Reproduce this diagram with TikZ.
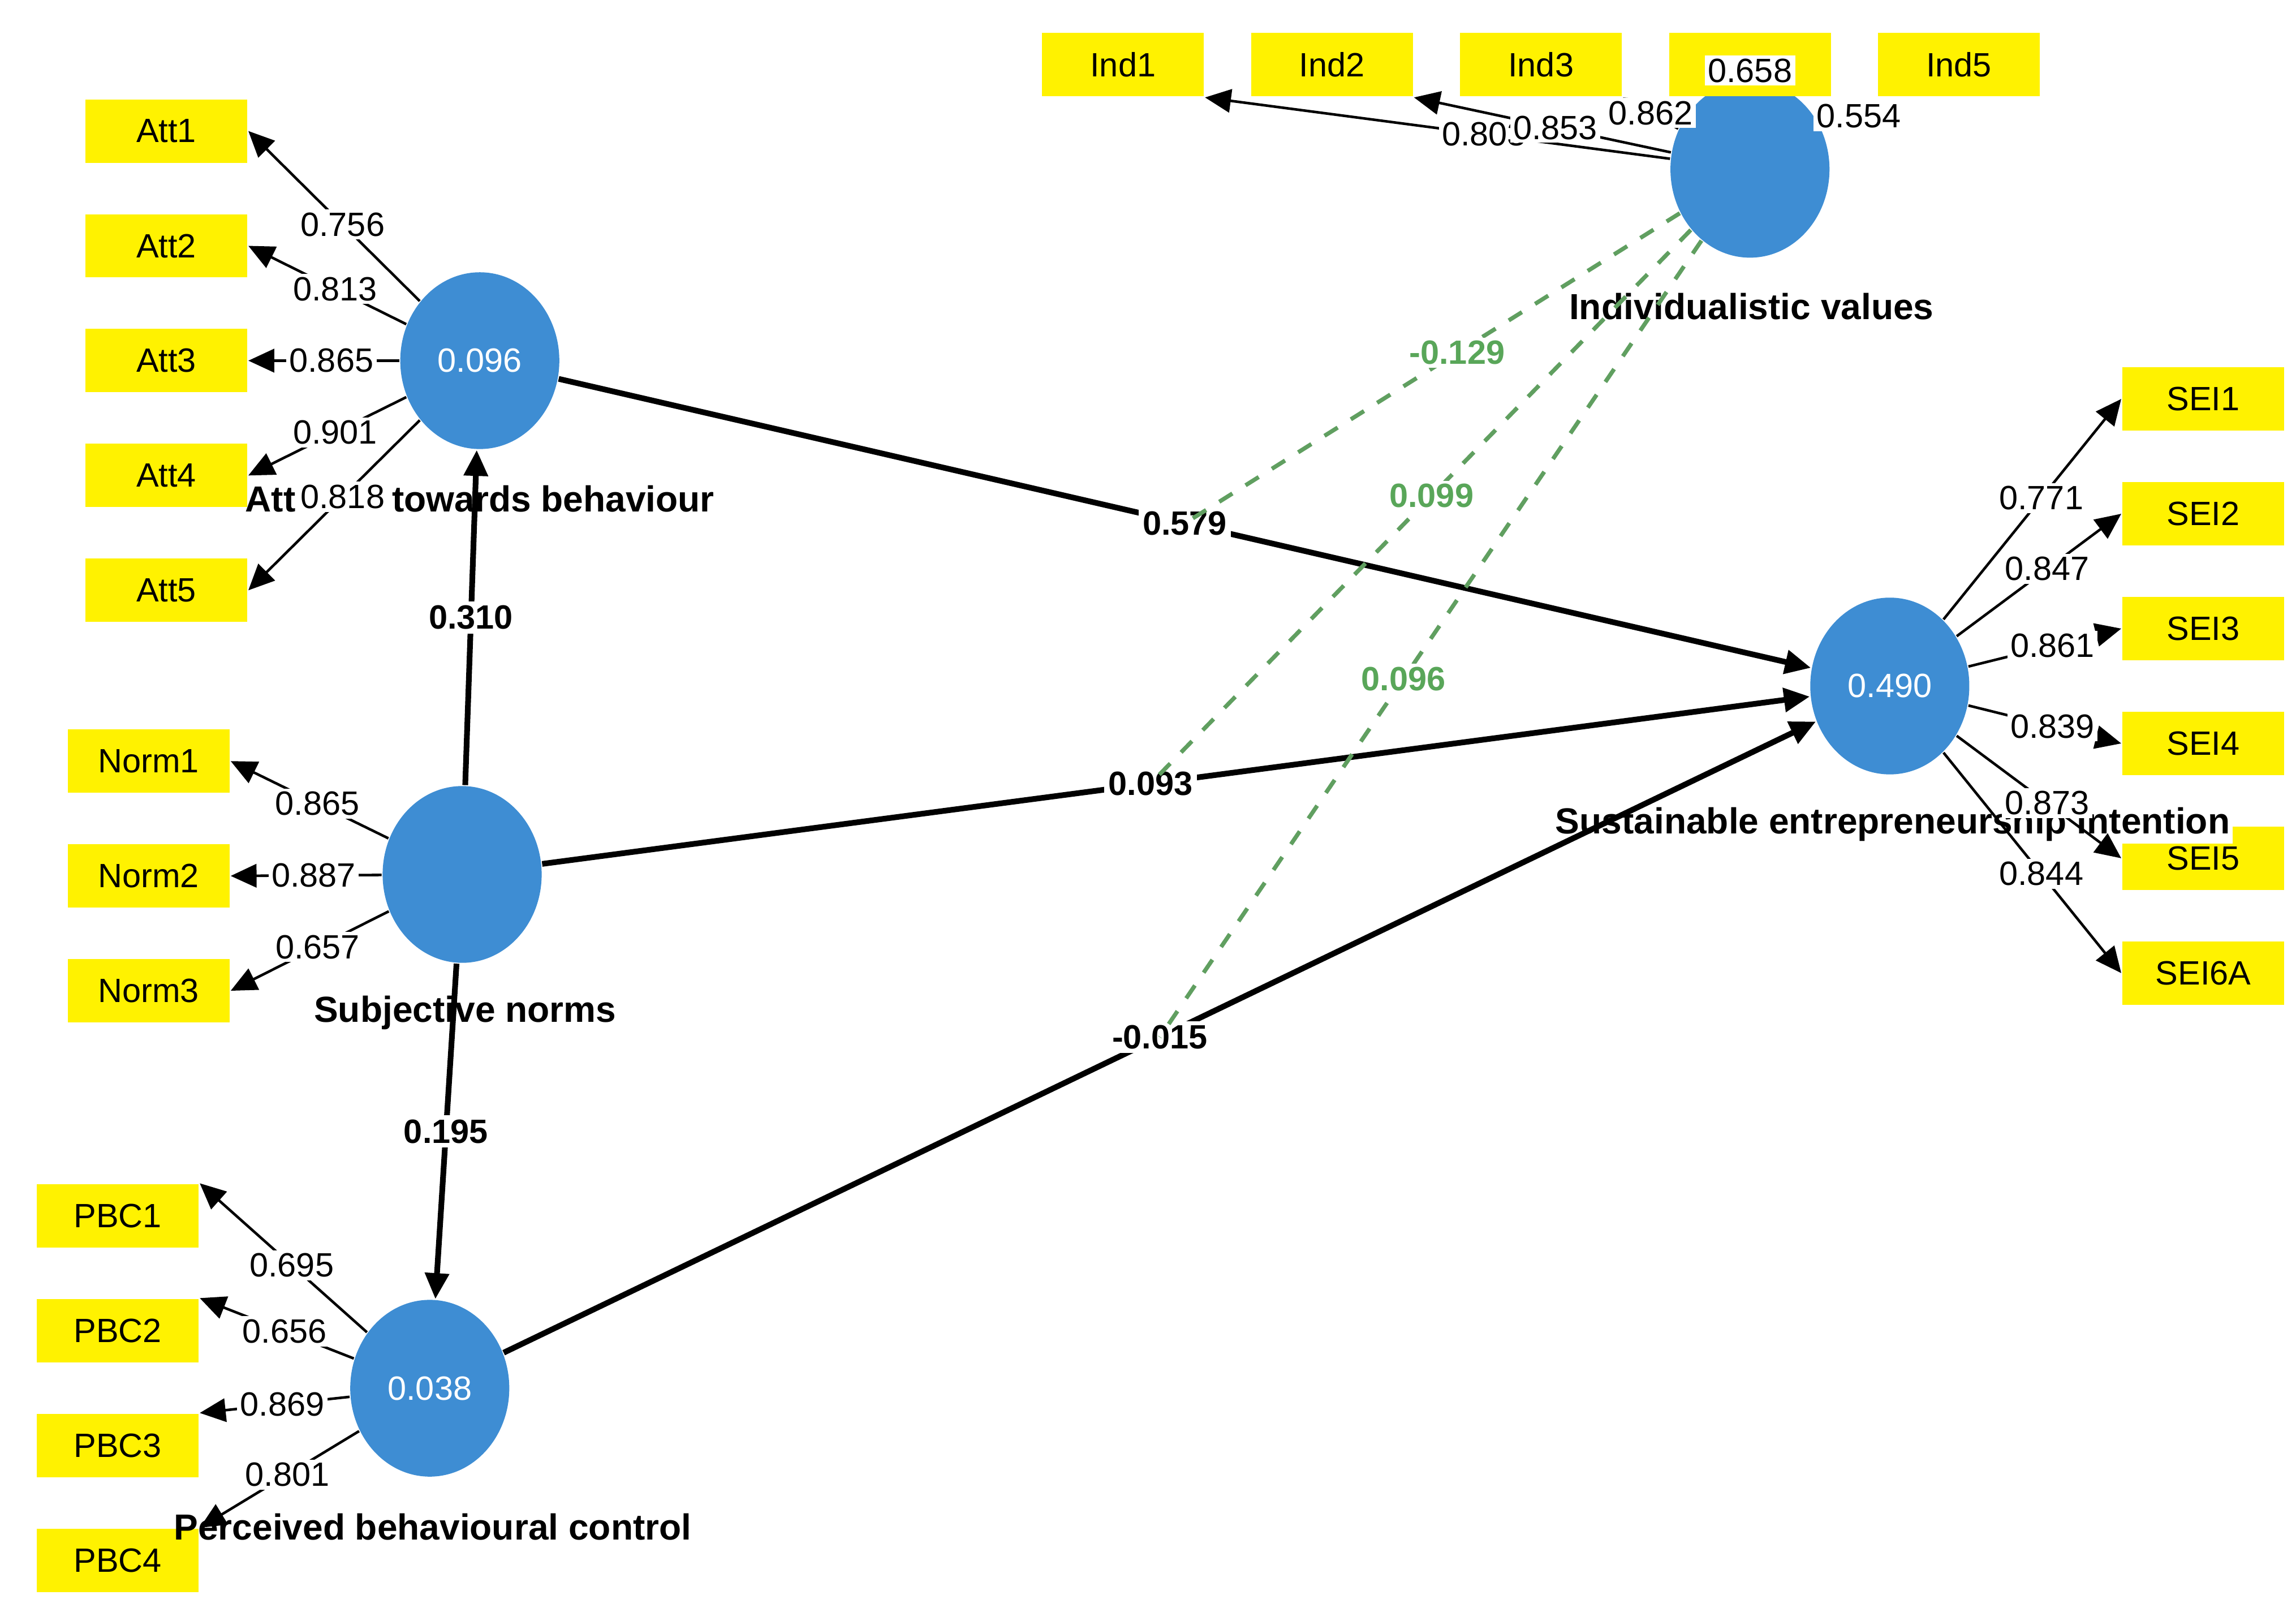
\documentclass[tikz,border=0pt]{standalone}
\usepackage{fontspec}
\setmainfont{Liberation Sans}
\usetikzlibrary{arrows.meta,shapes.geometric}
\begin{document}
\begin{tikzpicture}[
        x=0.01cm, y=-0.01cm,
        >={Triangle[length=5pt,width=4.5pt]},
        every node/.style={font=\fontsize{6.5}{7}\selectfont},
        ind/.style={fill=yellow, minimum width=1.1cm, minimum height=0.43cm, inner sep=0pt},
        lat/.style={ellipse, fill=cyan!60!blue!80, draw=none, minimum width=1.08cm, minimum height=1.2cm, text=white, inner sep=0pt},
        load/.style={->, line width=0.5pt},
        path/.style={->, line width=1.1pt},
        mod/.style={dashed, draw=green!25!gray, line width=0.8pt},
        lbl/.style={fill=white, inner sep=0.6pt},
        plbl/.style={fill=white, inner sep=0.8pt, font=\fontsize{6.5}{7}\selectfont\bfseries},
        mlbl/.style={fill=white, inner sep=0.6pt, text=green!30!gray, font=\fontsize{6.5}{7}\selectfont\bfseries}
    ]
    \useasboundingbox (0,0) rectangle (1560,1092);

    % Indicators
    \foreach \i/\y in {1/89,2/167,3/245,4/323,5/401}
      \node[ind] (att\i) at (113,\y) {Att\i};
    \foreach \i/\y in {1/517,2/595,3/673}
      \node[ind] (norm\i) at (101,\y) {Norm\i};
    \foreach \i/\y in {1/826,2/904,3/982,4/1060}
      \node[ind] (pbc\i) at (80,\y) {PBC\i};
    \foreach \i/\x in {1/763,2/905,3/1047,4/1189,5/1331}
      \node[ind] (ind\i) at (\x,44) {\ifnum\i=4\else Ind\i\fi};
    \foreach \i/\n/\y in {1/SEI1/271,2/SEI2/349,3/SEI3/427,4/SEI4/505,5/SEI5/583,6/SEI6A/661}
      \node[ind] (sei\i) at (1497,\y) {\n};

    % Constructs
    \node[lat] (att) at (326,245) {0.096};
    \node[lat] (sn) at (314,594) {};
    \node[lat] (pbc) at (292,943) {0.038};
    \node[lat] (iv) at (1189,115) {};
    \node[lat] (sei) at (1284,466) {0.490};

    \node[font=\fontsize{7}{8}\selectfont\bfseries] at (326,339) {Attitude towards behaviour};
    \node[font=\fontsize{7}{8}\selectfont\bfseries] at (316,688) {Subjective norms};
    \node[font=\fontsize{7}{8}\selectfont\bfseries] at (294,1037) {Perceived behavioural control};
    \node[font=\fontsize{7}{8}\selectfont\bfseries] at (1190,208) {Individualistic values};
    \node[font=\fontsize{7}{8}\selectfont\bfseries, fill=white, inner sep=0.5pt] at (1286,560) {Sustainable entrepreneurship intention};

    % Outer loadings
    \foreach \i/\v in {1/0.756,2/0.813,3/0.865,4/0.901,5/0.818}
      \draw[load] (att) -- (att\i.east) node[lbl, pos=0.45] {\v};
    \foreach \i/\v in {1/0.865,2/0.887,3/0.657}
      \draw[load] (sn) -- (norm\i.east) node[lbl, pos=0.45] {\v};
    \foreach \i/\v in {1/0.695,2/0.656,3/0.869,4/0.801}
      \draw[load] (pbc) -- (pbc\i.north east) node[lbl, pos=0.45] {\v};
    \foreach \i/\v in {1/0.771,2/0.847,3/0.861,4/0.839,5/0.873,6/0.844}
      \draw[load] (sei) -- (sei\i.west) node[lbl, pos=0.55] {\v};
    \draw[load] (iv) -- (ind1.south east) node[lbl, pos=0.4] {0.803};
    \draw[load] (iv) -- (ind2.south east) node[lbl, pos=0.45] {0.853};
    \draw[load] (iv) -- (ind3.south east) node[lbl, pos=0.5] {0.862};
    \node[ind] at (1189,44) {};
    \node[lbl, font=\fontsize{6.5}{7}\selectfont] at (1189,48) {0.658};
    \node[lbl] at (1263,79) {0.554};

    % Structural paths
    \draw[path] (att) -- (sei) coordinate[pos=0.5] (m1) node[plbl, pos=0.5] {0.579};
    \draw[path] (sn) -- (att) node[plbl, midway] {0.310};
    \draw[path] (sn) -- (sei) coordinate[pos=0.48] (m2) node[plbl, pos=0.48] {0.093};
    \draw[path] (sn) -- (pbc) node[plbl, midway] {0.195};
    \draw[path] (pbc) -- (sei) coordinate[pos=0.5] (m3) node[plbl, pos=0.5] {-0.015};

    % Moderating effects
    \draw[mod] (iv) -- (m1) node[mlbl, pos=0.45] {-0.129};
    \draw[mod] (iv) -- (m2) node[mlbl, pos=0.48] {0.099};
    \draw[mod] (iv) -- (m3) node[mlbl, pos=0.55] {0.096};
\end{tikzpicture}
\end{document}
